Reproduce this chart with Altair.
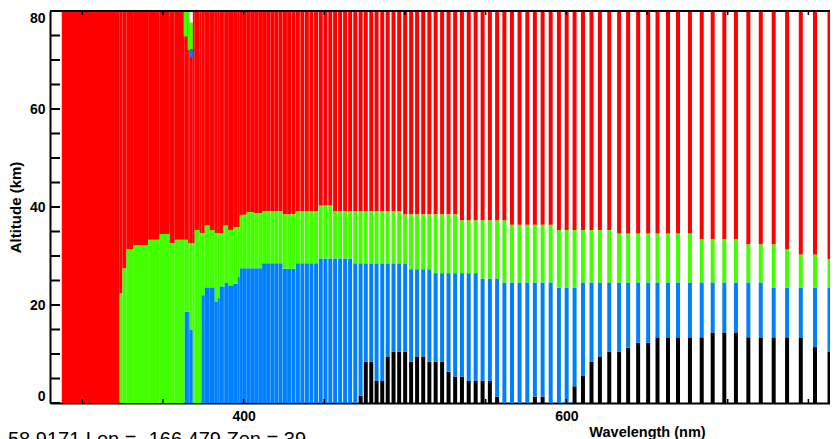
import altair as alt
import pandas as pd

# ---------------- data ----------------
# Dense UV part (continuous fill): wavelength segments with blue / green tops (km); red fills up to 80 km
seg_start = [287.3, 323.2, 324.9, 327.4, 331.5, 340.8, 348.0, 354.2, 357.3, 363.5, 365.6, 366.6, 368.5, 369.7,
             372.8, 373.9, 375.9, 379.0, 382.1, 384.0, 385.2, 387.3, 388.3, 390.4, 393.5, 396.4, 397.6]
seg_end = [323.2, 324.9, 327.4, 331.5, 340.8, 348.0, 354.2, 357.3, 363.5, 365.6, 366.6, 368.5, 369.7, 372.8,
           373.9, 375.9, 379.0, 382.1, 384.0, 385.2, 387.3, 388.3, 390.4, 393.5, 396.4, 397.6, 399.5]
seg_blue = [0, 0, 0, 0, 0, 0, 0, 0, 0, 18.6, 18.6, 15.0, 0, 0,
            0, 22.0, 23.6, 23.6, 20.7, 21.4, 23.8, 23.8, 24.6, 24.0, 24.3, 25.7, 27.5]
seg_green = [0, 22.4, 27.5, 31.4, 32.2, 33.3, 34.5, 32.6, 33.3, 33.3, 32.6, 32.6, 32.6, 35.3,
             34.7, 34.7, 36.3, 35.3, 34.7, 34.7, 34.7, 36.3, 36.3, 35.3, 35.9, 35.9, 38.4]

# small patch near the top around 365 nm
top_start = [362.8, 365.3, 366.4, 366.4, 366.4]
top_end = [365.3, 366.9, 368.5, 368.5, 368.5]
top_lo = [74.8, 72.0, 72.2, 70.6, 77.6]
top_hi = [80.0, 80.0, 77.6, 72.2, 80.0]
top_kind = ["green", "green", "green", "blue", "blank"]

# Individual wavelength bars (nm) with black / blue / green tops (km); red up to 80 km
bar_wl = [400.6, 403.0, 405.4, 407.8, 410.3, 412.7, 415.2, 417.8, 420.3, 422.9,
          425.6, 428.2, 430.9, 433.6, 436.4, 439.2, 442.0, 444.9, 447.8, 450.7,
          453.7, 456.7, 459.8, 462.9, 466.0, 469.2, 472.5, 475.7, 479.1, 482.4,
          485.9, 489.3, 492.9, 496.4, 500.1, 503.8, 507.5, 511.3, 515.1, 519.0,
          523.0, 527.0, 531.1, 535.3, 539.5, 543.8, 548.1, 552.6, 557.1, 561.6,
          566.3, 571.0,
          575.8, 580.5, 585.3, 590.3, 595.4, 600.2, 605.1, 610.3, 615.6, 620.8,
          626.6, 632.7, 638.3, 644.5, 650.7, 656.5, 663.0, 669.2, 676.6, 683.9,
          690.7, 697.9, 705.1, 712.8, 720.5, 728.5, 736.8, 745.3, 754.1, 763.1]
bar_black = [0, 0, 0, 0, 0, 0, 0, 0, 0, 0,
             0, 0, 0, 0, 0, 0, 0, 0, 0, 0,
             0, 0, 0, 0, 0, 0, 1.5, 8.4, 8.4, 4.5,
             4.5, 9.5, 10.5, 10.5, 10.5, 8.4, 9.5, 9.5, 8.4, 8.4,
             8.4, 6.4, 5.4, 5.4, 4.5, 4.5, 4.5, 4.5, 1.3, 0,
             0, 0,
             0, 1.3, 1.3, 0, 0, 0, 3.4, 5.5, 8.4, 9.5,
             10.5, 10.5, 11.3, 12.3, 12.3, 13.4, 13.4, 13.4, 13.4, 13.4,
             14.4, 14.4, 14.4, 13.4, 13.4, 13.4, 13.4, 13.4, 11.4, 10.5]
bar_blue = [27.5, 27.5, 27.5, 27.5, 27.5, 28.5, 28.5, 28.5, 28.5, 28.5,
            27.4, 27.4, 27.4, 28.5, 28.5, 28.5, 28.5, 28.5, 29.5, 29.5,
            29.5, 29.5, 29.5, 29.5, 29.5, 28.5, 28.5, 28.5, 28.5, 28.5,
            28.5, 28.5, 28.5, 28.5, 28.5, 27.3, 27.3, 27.3, 27.3, 26.5,
            26.5, 26.5, 26.5, 26.5, 26.5, 26.5, 25.4, 25.4, 25.4, 24.6,
            24.6, 24.6,
            24.6, 24.6, 24.6, 24.6, 23.5, 23.5, 23.5, 24.6, 24.6, 24.6,
            24.6, 24.6, 24.6, 24.6, 24.6, 24.6, 24.6, 24.6, 24.6, 24.6,
            24.6, 24.6, 24.6, 24.6, 24.6, 23.5, 23.5, 23.5, 23.5, 23.5]
bar_green = [38.4, 39.0, 39.0, 38.7, 38.7, 39.2, 39.2, 39.2, 39.2, 39.2,
             38.5, 38.5, 38.5, 39.2, 39.2, 39.2, 39.2, 39.2, 40.3, 40.3,
             40.3, 39.2, 39.2, 39.2, 39.2, 39.2, 39.2, 39.2, 39.2, 39.2,
             39.2, 39.2, 39.2, 39.2, 38.5, 38.5, 38.5, 38.5, 38.5, 38.5,
             38.5, 38.5, 38.5, 37.3, 37.3, 37.3, 37.3, 37.3, 37.3, 37.3,
             36.4, 36.4,
             36.4, 36.4, 36.4, 36.4, 35.3, 35.3, 35.3, 35.3, 35.3, 35.3,
             35.3, 34.6, 34.6, 34.6, 34.6, 34.6, 34.6, 34.6, 34.6, 33.4,
             33.4, 33.4, 33.4, 32.4, 32.4, 32.4, 31.4, 30.3, 30.3, 29.4]

x_ticks = [300, 350, 400, 450, 500, 550, 600, 650, 700, 750]
x_labels = [400, 600]
y_ticks = [0, 5, 10, 15, 20, 25, 30, 35, 40, 45, 50, 55, 60, 65, 70, 75, 80]
y_labels = [0, 20, 40, 60, 80]
info_text = "58.9171 Lon = -166.479 Zen = 39"

kinds = ["black", "blue", "green", "red", "blank"]
kind_colors = ["#000000", "#0080FF", "#44FF00", "#FF0000", "#FFFFFF"]

# ---------------- tables ----------------
rect_rows = []
for s, e, b, g in zip(seg_start, seg_end, seg_blue, seg_green):
    base = 0.0
    if b > 0:
        rect_rows.append(dict(wl=s, wl2=e, alt_lo=0.0, alt_hi=b, kind="blue"))
        base = b
    if g > base:
        rect_rows.append(dict(wl=s, wl2=e, alt_lo=base, alt_hi=g, kind="green"))
        base = g
    rect_rows.append(dict(wl=s, wl2=e, alt_lo=base, alt_hi=80.0, kind="red"))
for s, e, lo, hi, k in zip(top_start, top_end, top_lo, top_hi, top_kind):
    rect_rows.append(dict(wl=s, wl2=e, alt_lo=lo, alt_hi=hi, kind=k))
rect_df = pd.DataFrame(rect_rows)

bar_rows = []
for w, k0, b, g in zip(bar_wl, bar_black, bar_blue, bar_green):
    base = 0.0
    if k0 > 0:
        bar_rows.append(dict(wl=w, alt_lo=0.0, alt_hi=k0, kind="black"))
        base = k0
    if b > base:
        bar_rows.append(dict(wl=w, alt_lo=base, alt_hi=b, kind="blue"))
        base = b
    if g > base:
        bar_rows.append(dict(wl=w, alt_lo=base, alt_hi=g, kind="green"))
        base = g
    bar_rows.append(dict(wl=w, alt_lo=base, alt_hi=80.0, kind="red"))
bar_df = pd.DataFrame(bar_rows)

FONT = "Liberation Sans"
PLOT_W, PLOT_H = 780, 392

xscale = alt.Scale(domain=[280, 763.4], nice=False, zero=False)
yscale = alt.Scale(domain=[0, 80], nice=False, zero=False)
cscale = alt.Scale(domain=kinds, range=kind_colors)

xaxis = alt.Axis(values=x_labels, format="d", title="Wavelength (nm)", grid=False, ticks=False, tickSize=0,
                 domain=True, domainColor="black", domainWidth=2, labels=True,
                 labelFont=FONT, labelFontSize=14, labelFontWeight="bold",
                 labelColor="black", labelPadding=6, titleFont=FONT, titleFontSize=14.5, titleFontWeight="bold",
                 titleColor="black", titleX=597, titleY=29, titleAlign="center", titleBaseline="middle")
yaxis = alt.Axis(values=y_labels, format="d", title="Altitude (km)", grid=False, ticks=False, tickSize=0,
                 domain=True, domainColor="black", domainWidth=2, labels=True, labelFlush=True,
                 labelFont=FONT, labelFontSize=14,
                 labelFontWeight="bold", labelColor="black", labelPadding=5, titleFont=FONT, titleFontSize=15,
                 titleFontWeight="bold", titleColor="black", titlePadding=6)

X_rect = alt.X("wl:Q", scale=xscale, axis=xaxis)
Y_rect = alt.Y("alt_lo:Q", scale=yscale, axis=yaxis)
color = alt.Color("kind:N", scale=cscale, legend=None)

rects = alt.Chart(rect_df).mark_rect().encode(
    x=X_rect, x2="wl2:Q", y=Y_rect, y2="alt_hi:Q", color=color)

bars = alt.Chart(bar_df).mark_rule(strokeWidth=4).encode(
    x=X_rect, y=Y_rect, y2="alt_hi:Q", color=color)

xt = pd.DataFrame({"wl": x_ticks})
yt = pd.DataFrame({"alt_lo": y_ticks})
bottom_ticks = alt.Chart(xt).mark_rule(color="black", strokeWidth=1.5).encode(
    x=X_rect, y=alt.value(PLOT_H), y2=alt.value(PLOT_H - 4))
top_ticks = alt.Chart(xt).mark_rule(color="black", strokeWidth=1.5).encode(
    x=X_rect, y=alt.value(0), y2=alt.value(4))
left_ticks = alt.Chart(yt).mark_rule(color="black", strokeWidth=2).encode(
    y=Y_rect, x=alt.value(0), x2=alt.value(10))
top_line = alt.Chart(pd.DataFrame({"a": [0]})).mark_rule(color="black", strokeWidth=2).encode(
    x=alt.value(0), x2=alt.value(PLOT_W), y=alt.value(0))
info = alt.Chart(pd.DataFrame({"s": [info_text]})).mark_text(
    align="left", baseline="alphabetic", font=FONT, fontSize=20, color="black").encode(
    text="s:N", x=alt.value(-42), y=alt.value(435))

chart = alt.layer(rects, bars, bottom_ticks, top_ticks, left_ticks, top_line, info).properties(
    width=PLOT_W, height=PLOT_H,
    autosize=alt.AutoSizeParams(type="none"),
    padding={"left": 42, "top": 3, "right": 0, "bottom": 50},
).configure_view(stroke=None).configure(background="white")

chart.save("out.html", embed_options={"renderer": "svg", "actions": False})
